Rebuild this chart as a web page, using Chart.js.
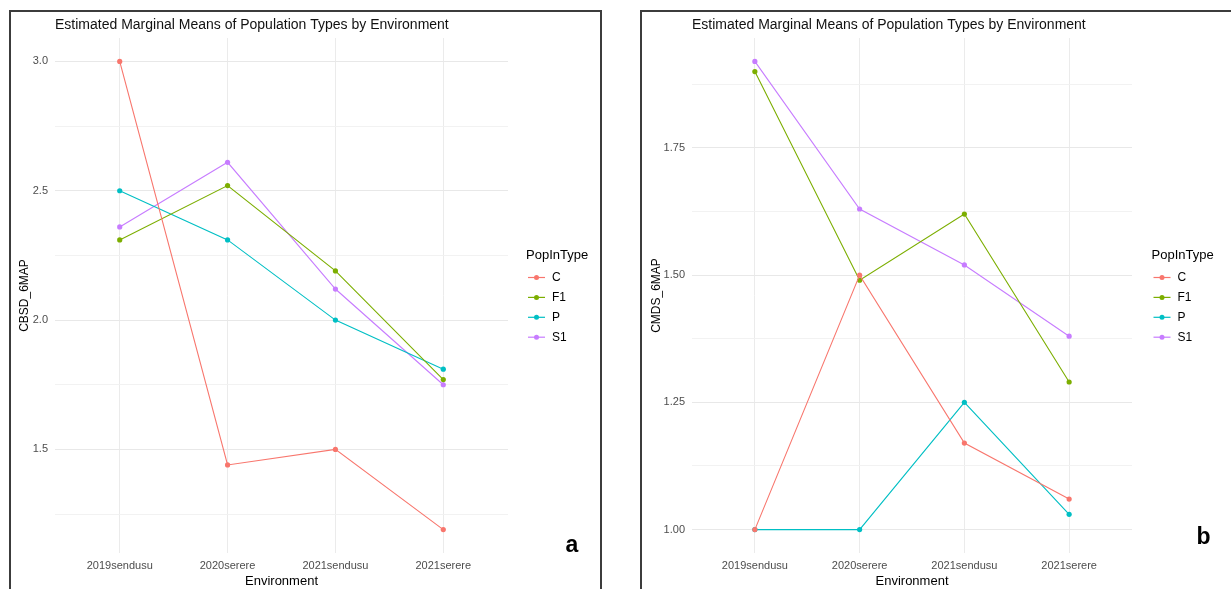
<!DOCTYPE html>
<html>
<head>
<meta charset="utf-8">
<script src="https://cdn.jsdelivr.net/npm/chart.js@4.4.1/dist/chart.umd.min.js"></script>
<style>
  html, body { margin:0; padding:0; background:#fff; width:1231px; height:589px; overflow:hidden; }
  .frame { position:absolute; border:2px solid #3c3c3c; box-sizing:border-box; }
  canvas { position:absolute; }
</style>
</head>
<body>
<div class="frame" style="left:9px; top:10px; width:593px; height:600px; border-bottom:none;"></div>
<div class="frame" style="left:640px; top:10px; width:700px; height:600px; border-bottom:none; border-right:none;"></div>
<canvas id="chartA" width="591" height="577" style="left:10px; top:12px; width:591px; height:577px;"></canvas>
<canvas id="chartB" width="588" height="577" style="left:643px; top:12px; width:588px; height:577px;"></canvas>
<script>
// ---------- data ----------
const categories = ['2019sendusu', '2020serere', '2021sendusu', '2021serere'];
const seriesNames = ['C', 'F1', 'P', 'S1'];
const seriesColors = ['#F8766D', '#7CAE00', '#00BFC4', '#C77CFF'];

// panel a: CBSD_6MAP
const cbsdC  = [3.00, 1.44, 1.50, 1.19];
const cbsdF1 = [2.31, 2.52, 2.19, 1.77];
const cbsdP  = [2.50, 2.31, 2.00, 1.81];
const cbsdS1 = [2.36, 2.61, 2.12, 1.75];
const ticksA = [1.5, 2.0, 2.5, 3.0];
const tickLabelsA = ['1.5', '2.0', '2.5', '3.0'];
const minorTicksA = [1.25, 1.75, 2.25, 2.75];

// panel b: CMDS_6MAP
const cmdsC  = [1.00, 1.50, 1.17, 1.06];
const cmdsF1 = [1.90, 1.49, 1.62, 1.29];
const cmdsP  = [1.00, 1.00, 1.25, 1.03];
const cmdsS1 = [1.92, 1.63, 1.52, 1.38];
const ticksB = [1.00, 1.25, 1.50, 1.75];
const tickLabelsB = ['1.00', '1.25', '1.50', '1.75'];
const minorTicksB = [1.125, 1.375, 1.625, 1.875];

const chartTitle = 'Estimated Marginal Means of Population Types by Environment';
const legendTitle = 'PopInType';
const xTitle = 'Environment';

// ---------- helpers ----------
const FONT = '"Liberation Sans", Arial, Helvetica, sans-serif';

const decor = {
  id: 'decor',
  afterDraw(chart, args, o) {
    const { ctx, chartArea: ca } = chart;
    ctx.save();
    // title
    ctx.font = '14px ' + FONT;
    ctx.fillStyle = '#111';
    ctx.textAlign = 'left';
    ctx.textBaseline = 'alphabetic';
    ctx.fillText(o.title, ca.left, o.titleY);
    // legend
    const lx = ca.right + o.legendDx;
    const cy = (ca.top + ca.bottom) / 2 + o.legendDy;
    ctx.textBaseline = 'middle';
    ctx.font = '13px ' + FONT;
    ctx.fillStyle = '#000';
    ctx.fillText(o.legendTitle, lx, cy);
    chart.data.datasets.forEach((ds, i) => {
      const y = cy + 22.5 + i * 19.9;
      ctx.strokeStyle = ds.borderColor;
      ctx.lineWidth = 1.2;
      ctx.beginPath();
      ctx.moveTo(lx + 2, y);
      ctx.lineTo(lx + 19, y);
      ctx.stroke();
      ctx.fillStyle = ds.borderColor;
      ctx.beginPath();
      ctx.arc(lx + 10.5, y, 2.5, 0, Math.PI * 2);
      ctx.fill();
      ctx.fillStyle = '#000';
      ctx.font = '12px ' + FONT;
      ctx.fillText(ds.label, lx + 26, y + 0.5);
    });
    // panel letter
    ctx.textBaseline = 'alphabetic';
    ctx.font = 'bold 23px ' + FONT;
    ctx.fillStyle = '#000';
    ctx.fillText(o.letter, ca.right + o.letterDx, o.letterY);
    ctx.restore();
  }
};

function makeDatasets(valuesList) {
  return valuesList.map((vals, i) => ({
    label: seriesNames[i],
    data: vals.map((v, k) => ({ x: k, y: v })),
    borderColor: seriesColors[i],
    backgroundColor: seriesColors[i],
    borderWidth: 1.1,
    pointRadius: 2.6,
    pointBorderWidth: 0,
    pointBackgroundColor: seriesColors[i],
    tension: 0,
    fill: false
  }));
}

function makeChart(id, valuesList, yTitle, majors, majorLabels, minors, geo) {
  const all = valuesList.flat();
  const lo = Math.min(...all), hi = Math.max(...all);
  const ex = (hi - lo) * 0.05;
  const tickVals = majors.concat(minors).sort((a, b) => a - b);
  return new Chart(document.getElementById(id), {
    type: 'line',
    data: { datasets: makeDatasets(valuesList) },
    options: {
      responsive: false,
      animation: false,
      devicePixelRatio: 1,
      layout: { padding: { left: 0, top: 26, right: geo.padRight, bottom: 0 } },
      plugins: {
        legend: { display: false },
        tooltip: { enabled: false },
        title: { display: false },
        decor: {
          title: chartTitle, titleY: 17,
          legendTitle: legendTitle, legendDx: geo.legendDx, legendDy: -40.5,
          letter: geo.letter, letterDx: geo.letterDx, letterY: geo.letterY
        }
      },
      scales: {
        x: {
          type: 'linear',
          min: -0.6,
          max: categories.length - 0.4,
          afterBuildTicks: (s) => { s.ticks = categories.map((c, i) => ({ value: i })); },
          afterFit: (s) => { s.height = 36; },
          ticks: {
            callback: (v) => categories[v] ?? '',
            color: '#4d4d4d',
            font: { family: FONT, size: 11 },
            padding: 6,
            maxRotation: 0,
            autoSkip: false
          },
          grid: { color: '#ebebeb', lineWidth: 1, drawTicks: false },
          border: { display: false },
          title: { display: true, text: xTitle, color: '#000', font: { family: FONT, size: 13 }, padding: { top: 0, bottom: 0 } }
        },
        y: {
          type: 'linear',
          min: lo - ex,
          max: hi + ex,
          afterBuildTicks: (s) => { s.ticks = tickVals.map(v => ({ value: v })); },
          afterFit: (s) => { s.width = geo.yWidth; },
          ticks: {
            callback: (v) => { const k = majors.indexOf(v); return k >= 0 ? majorLabels[k] : ''; },
            color: '#4d4d4d',
            font: { family: FONT, size: 11 },
            padding: 7,
            autoSkip: false
          },
          grid: {
            color: (c) => (c.tick && majors.includes(c.tick.value)) ? '#e8e8e8' : '#f1f1f1',
            lineWidth: (c) => (c.tick && majors.includes(c.tick.value)) ? 1.1 : 0.9,
            drawTicks: false
          },
          border: { display: false },
          title: { display: true, text: yTitle, color: '#000', font: { family: FONT, size: 12 }, padding: { top: geo.yTitlePad, bottom: 0 } }
        }
      }
    },
    plugins: [decor]
  });
}

makeChart('chartA', [cbsdC, cbsdF1, cbsdP, cbsdS1], 'CBSD_6MAP', ticksA, tickLabelsA, minorTicksA,
  { padRight: 591 - 498, yWidth: 45, yTitlePad: 7.8, legendDx: 18, letter: 'a', letterDx: 57.5, letterY: 539.7 });
makeChart('chartB', [cmdsC, cmdsF1, cmdsP, cmdsS1], 'CMDS_6MAP', ticksB, tickLabelsB, minorTicksB,
  { padRight: 588 - 489, yWidth: 49, yTitlePad: 6, legendDx: 19.5, letter: 'b', letterDx: 64.5, letterY: 532 });
</script>
</body>
</html>
